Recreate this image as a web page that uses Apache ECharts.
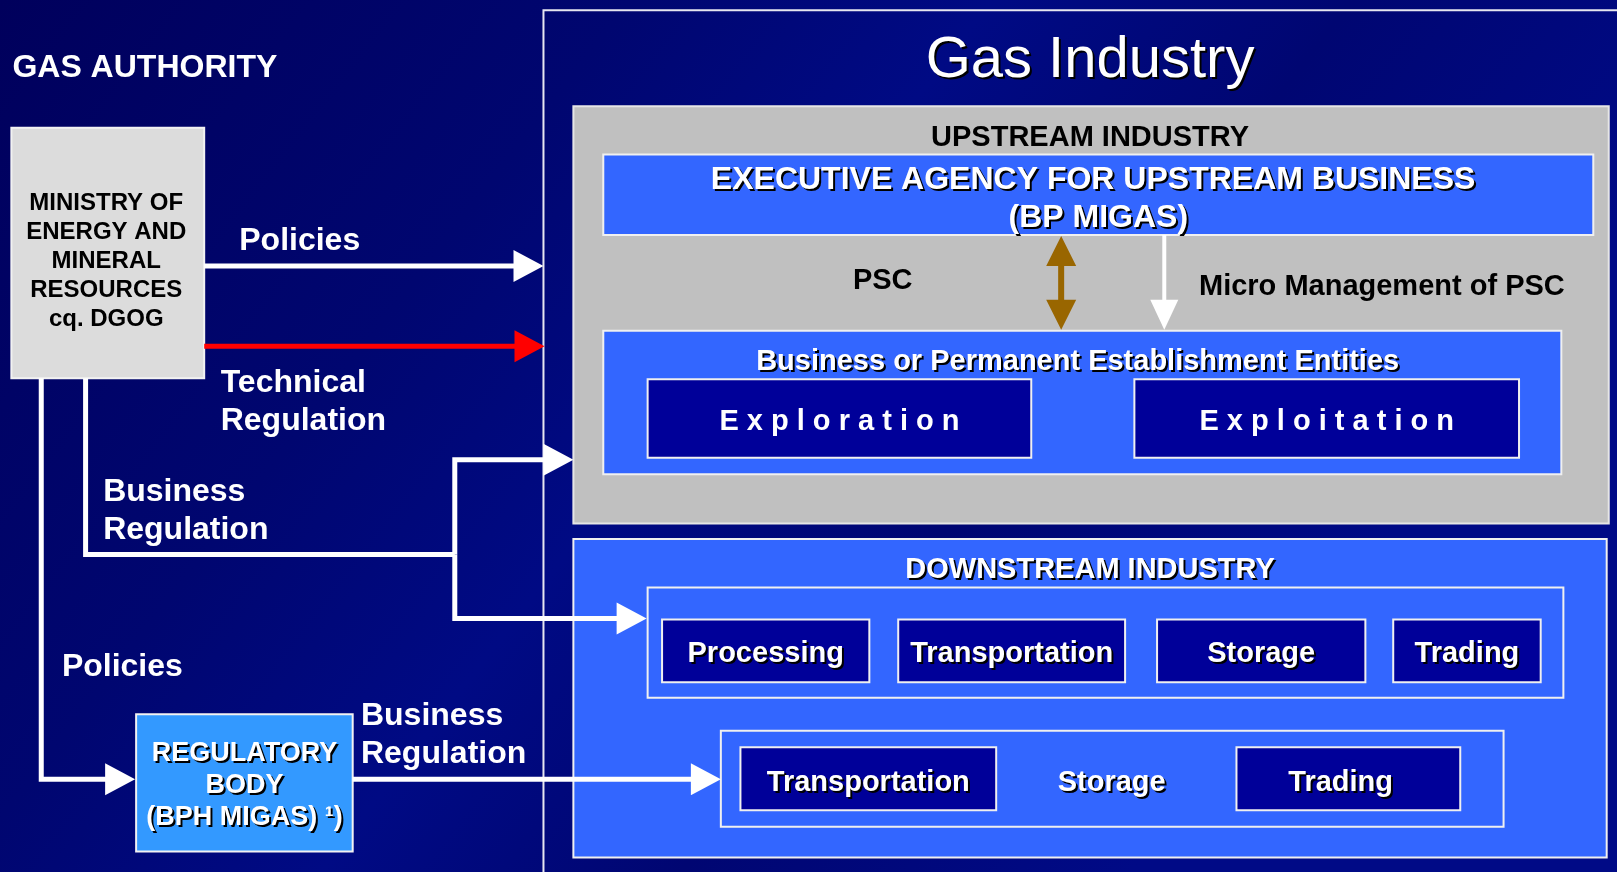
<!DOCTYPE html>
<html>
<head>
<meta charset="utf-8">
<title>Gas Industry</title>
<script src="https://cdn.jsdelivr.net/npm/echarts@6/dist/echarts.min.js"></script>
<style>
  html, body { margin: 0; padding: 0; background: #000070; }
  #main { width: 1617px; height: 872px; }
</style>
</head>
<body>
<div id="main"></div>
<script>
// texts of the diagram
var authorityTitle = 'GAS AUTHORITY';
var industryTitle = 'Gas Industry';
var upstreamTitle = 'UPSTREAM INDUSTRY';
var downstreamTitle = 'DOWNSTREAM INDUSTRY';
var ministryLines = ['MINISTRY OF', 'ENERGY AND', 'MINERAL', 'RESOURCES', 'cq. DGOG'];
var regulatorLines = ['REGULATORY', 'BODY', '(BPH MIGAS) \u00b9)'];
var agencyLines = ['EXECUTIVE AGENCY FOR UPSTREAM BUSINESS', '(BP MIGAS)'];
var entitiesTitle = 'Business or Permanent Establishment Entities';
var upstreamUnits = ['Exploration', 'Exploitation'];
var downstreamChain = ['Processing', 'Transportation', 'Storage', 'Trading'];
var downstreamTrade = ['Transportation', 'Storage', 'Trading'];
var flowLabels = ['Policies', 'Technical\nRegulation', 'Business\nRegulation', 'Policies', 'Business\nRegulation'];
var pscLabels = ['PSC', 'Micro Management of PSC'];

// layout, in the coordinates of the reference picture (1568 x 846)
var W = 1568, H = 846;
var ministryBox = [11, 124, 198, 367];
var regulatorBox = [132, 693, 342, 826];
var industryFrame = [527, 10, 1600, 880];
var upstreamBox = [556, 103, 1560, 508];
var agencyBox = [585, 150, 1545, 228];
var entitiesBox = [585, 321, 1514, 460];
var unitBoxes = [[628, 368, 1000, 444], [1100, 368, 1473, 444]];
var downstreamBox = [556, 523, 1558, 832];
var chainFrame = [628, 570, 1516, 677];
var chainBoxes = [[642, 601, 843, 662], [871, 601, 1091, 662], [1122, 601, 1324, 662], [1351, 601, 1494, 662]];
var tradeFrame = [699, 709, 1458, 802];
var tradeBoxes = [[718, 725, 966, 786], null, [1199, 725, 1416, 786]];
var tradeTextX = [842, 1078, 1300];
var flowLabelPos = [[232, 232], [214, 369], [100, 475], [60, 645], [350, 692]];
var pscLabelPos = [[856, 270], [1340, 276]];

var FONT = '"Liberation Sans", Arial, sans-serif';
function font(size, bold) { return (bold ? 'bold ' : '') + size + 'px ' + FONT; }

var boxStyles = {
  ministry: { fill: '#DCDCDC', stroke: '#F2F2F2', lineWidth: 2 },
  regulator: { fill: '#3399FF', stroke: '#F2F2F2', lineWidth: 2 },
  frame: { fill: null, stroke: '#E6E6F0', lineWidth: 2 },
  upstream: { fill: '#C0C0C0', stroke: '#E6E6E6', lineWidth: 2 },
  blue: { fill: '#3366FF', stroke: '#F0F0F0', lineWidth: 2 },
  navy: { fill: '#000099', stroke: '#F0F0F0', lineWidth: 2 },
  outline: { fill: null, stroke: '#F0F0F0', lineWidth: 2 }
};

var boxes = [
  [industryFrame, 'frame'],
  [ministryBox, 'ministry'],
  [regulatorBox, 'regulator'],
  [upstreamBox, 'upstream'],
  [agencyBox, 'blue'],
  [entitiesBox, 'blue'],
  [unitBoxes[0], 'navy'],
  [unitBoxes[1], 'navy'],
  [downstreamBox, 'blue'],
  [chainFrame, 'outline'],
  [tradeFrame, 'outline']
];
chainBoxes.forEach(function (b) { boxes.push([b, 'navy']); });
tradeBoxes.forEach(function (b) { if (b) boxes.push([b, 'navy']); });

var connectors = [
  { pts: [[198, 258], [527, 258]], color: '#FFFFFF', head: 'end' },
  { pts: [[198, 336], [528, 336]], color: '#FF0000', head: 'end' },
  { pts: [[83, 367], [83, 538], [441, 538]], color: '#FFFFFF', head: null },
  { pts: [[441, 538], [441, 446], [556, 446]], color: '#FFFFFF', head: 'end' },
  { pts: [[441, 538], [441, 600], [627, 600]], color: '#FFFFFF', head: 'end' },
  { pts: [[40, 367], [40, 756], [131, 756]], color: '#FFFFFF', head: 'end' },
  { pts: [[342, 756], [699, 756]], color: '#FFFFFF', head: 'end' },
  { pts: [[1029, 229], [1029, 320]], color: '#996600', head: 'both', w: 6, half: 15 },
  { pts: [[1129, 228], [1129, 320]], color: '#FFFFFF', head: 'end', w: 4, half: 14 }
];

// text marks
var texts = [];
function addText(p, t, size, bold, color, align, shadow) {
  texts.push({ p: p, t: t, font: font(size, bold), color: color, align: align, shadow: shadow });
}
addText([12, 64], authorityTitle, 32, true, '#FFFFFF', 'left', false);
addText([1057, 57], industryTitle, 58, false, '#FFFFFF', 'center', true);
addText([1057, 131], upstreamTitle, 29, true, '#000000', 'center', false);
addText([1060, 172], agencyLines[0], 32, true, '#FFFFFF', 'center', true);
addText([1065, 209], agencyLines[1], 32, true, '#FFFFFF', 'center', true);
pscLabels.forEach(function (t, i) { addText(pscLabelPos[i], t, 29, true, '#000000', 'center', false); });
addText([1045, 349], entitiesTitle, 29, true, '#FFFFFF', 'center', true);
upstreamUnits.forEach(function (t, i) {
  var b = unitBoxes[i];
  addText([(b[0] + b[2]) / 2, 407], t.split('').join(' '), 29, true, '#FFFFFF', 'center', false);
});
addText([1057, 551], downstreamTitle, 29, true, '#FFFFFF', 'center', true);
downstreamChain.forEach(function (t, i) {
  var b = chainBoxes[i];
  addText([(b[0] + b[2]) / 2, 632], t, 29, true, '#FFFFFF', 'center', true);
});
downstreamTrade.forEach(function (t, i) {
  addText([tradeTextX[i], 757], t, 29, true, '#FFFFFF', 'center', true);
});
ministryLines.forEach(function (t, i) {
  addText([103, 195 + i * 28], t, 24, true, '#000000', 'center', false);
});
regulatorLines.forEach(function (t, i) {
  addText([237, 729 + i * 31], t, 27, true, '#FFFFFF', 'center', true);
});
flowLabels.forEach(function (t, i) {
  t.split('\n').forEach(function (line, j) {
    addText([flowLabelPos[i][0], flowLabelPos[i][1] + j * 37], line, 32, true, '#FFFFFF', 'left', false);
  });
});

function arrowHead(tip, from, len, half) {
  var dx = tip[0] - from[0], dy = tip[1] - from[1];
  var l = Math.sqrt(dx * dx + dy * dy);
  dx /= l; dy /= l;
  var bx = tip[0] - dx * len, by = tip[1] - dy * len;
  return [tip, [bx - dy * half, by + dx * half], [bx + dy * half, by - dx * half]];
}

var chart = echarts.init(document.getElementById('main'));

var option = {
  animation: false,
  backgroundColor: '#000070',
  graphic: [{
    type: 'rect',
    z: -10,
    silent: true,
    shape: { x: 0, y: 0, width: 1617, height: 872 },
    style: {
      fill: {
        type: 'linear', x: 0, y: 0, x2: 0.7, y2: 1,
        colorStops: [
          { offset: 0, color: '#00005c' },
          { offset: 0.35, color: '#000670' },
          { offset: 0.55, color: '#000a84' },
          { offset: 0.75, color: '#000672' },
          { offset: 1, color: '#000a86' }
        ]
      }
    }
  }],
  grid: { left: 0, right: 0, top: 0, bottom: 0 },
  xAxis: { type: 'value', min: 0, max: W, show: false },
  yAxis: { type: 'value', min: 0, max: H, inverse: true, show: false },
  series: [
    {
      type: 'custom',
      name: 'boxes',
      silent: true,
      clip: false,
      data: boxes.map(function (b) { return b[0]; }),
      renderItem: function (params, api) {
        var p0 = api.coord([api.value(0), api.value(1)]);
        var p1 = api.coord([api.value(2), api.value(3)]);
        var s = boxStyles[boxes[params.dataIndex][1]];
        return {
          type: 'rect',
          shape: { x: p0[0], y: p0[1], width: p1[0] - p0[0], height: p1[1] - p0[1] },
          style: { fill: s.fill || 'none', stroke: s.stroke, lineWidth: s.lineWidth }
        };
      }
    },
    {
      type: 'custom',
      name: 'connectors',
      silent: true,
      clip: false,
      z: 3,
      data: connectors.map(function (c, i) { return [i, 0]; }),
      renderItem: function (params, api) {
        var c = connectors[params.dataIndex];
        var pts = c.pts.map(function (p) { return api.coord(p); });
        var len = 30, half = c.half || 16, w = c.w || 5;
        var children = [];
        var line = pts.map(function (p) { return p.slice(); });
        if (c.head) {
          var n = line.length;
          var a = pts[n - 1], b = pts[n - 2];
          var d = Math.sqrt(Math.pow(a[0] - b[0], 2) + Math.pow(a[1] - b[1], 2));
          line[n - 1] = [a[0] - (a[0] - b[0]) / d * (len - 2), a[1] - (a[1] - b[1]) / d * (len - 2)];
          children.push({ type: 'polygon', shape: { points: arrowHead(a, b, len, half) }, style: { fill: c.color } });
          if (c.head === 'both') {
            var a2 = pts[0], b2 = pts[1];
            line[0] = [a2[0] - (a2[0] - b2[0]) / d * (len - 2), a2[1] - (a2[1] - b2[1]) / d * (len - 2)];
            children.push({ type: 'polygon', shape: { points: arrowHead(a2, b2, len, half) }, style: { fill: c.color } });
          }
        }
        children.unshift({ type: 'polyline', shape: { points: line }, style: { fill: 'none', stroke: c.color, lineWidth: w, lineJoin: 'miter' } });
        return { type: 'group', children: children };
      }
    },
    {
      type: 'custom',
      name: 'labels',
      silent: true,
      clip: false,
      z: 4,
      data: texts.map(function (t) { return t.p; }),
      renderItem: function (params, api) {
        var d = texts[params.dataIndex];
        var p = api.coord([api.value(0), api.value(1)]);
        var y = p[1] + 2.5;
        var children = [];
        if (d.shadow) {
          // black drop shadow under the white text
          children.push({
            type: 'text',
            style: { text: d.t, x: p[0] + 2, y: y + 2, fill: '#000000', font: d.font, textAlign: d.align, textVerticalAlign: 'middle' }
          });
        }
        children.push({
          type: 'text',
          style: { text: d.t, x: p[0], y: y, fill: d.color, font: d.font, textAlign: d.align, textVerticalAlign: 'middle' }
        });
        return { type: 'group', children: children };
      }
    }
  ]
};

chart.setOption(option);
</script>
</body>
</html>
